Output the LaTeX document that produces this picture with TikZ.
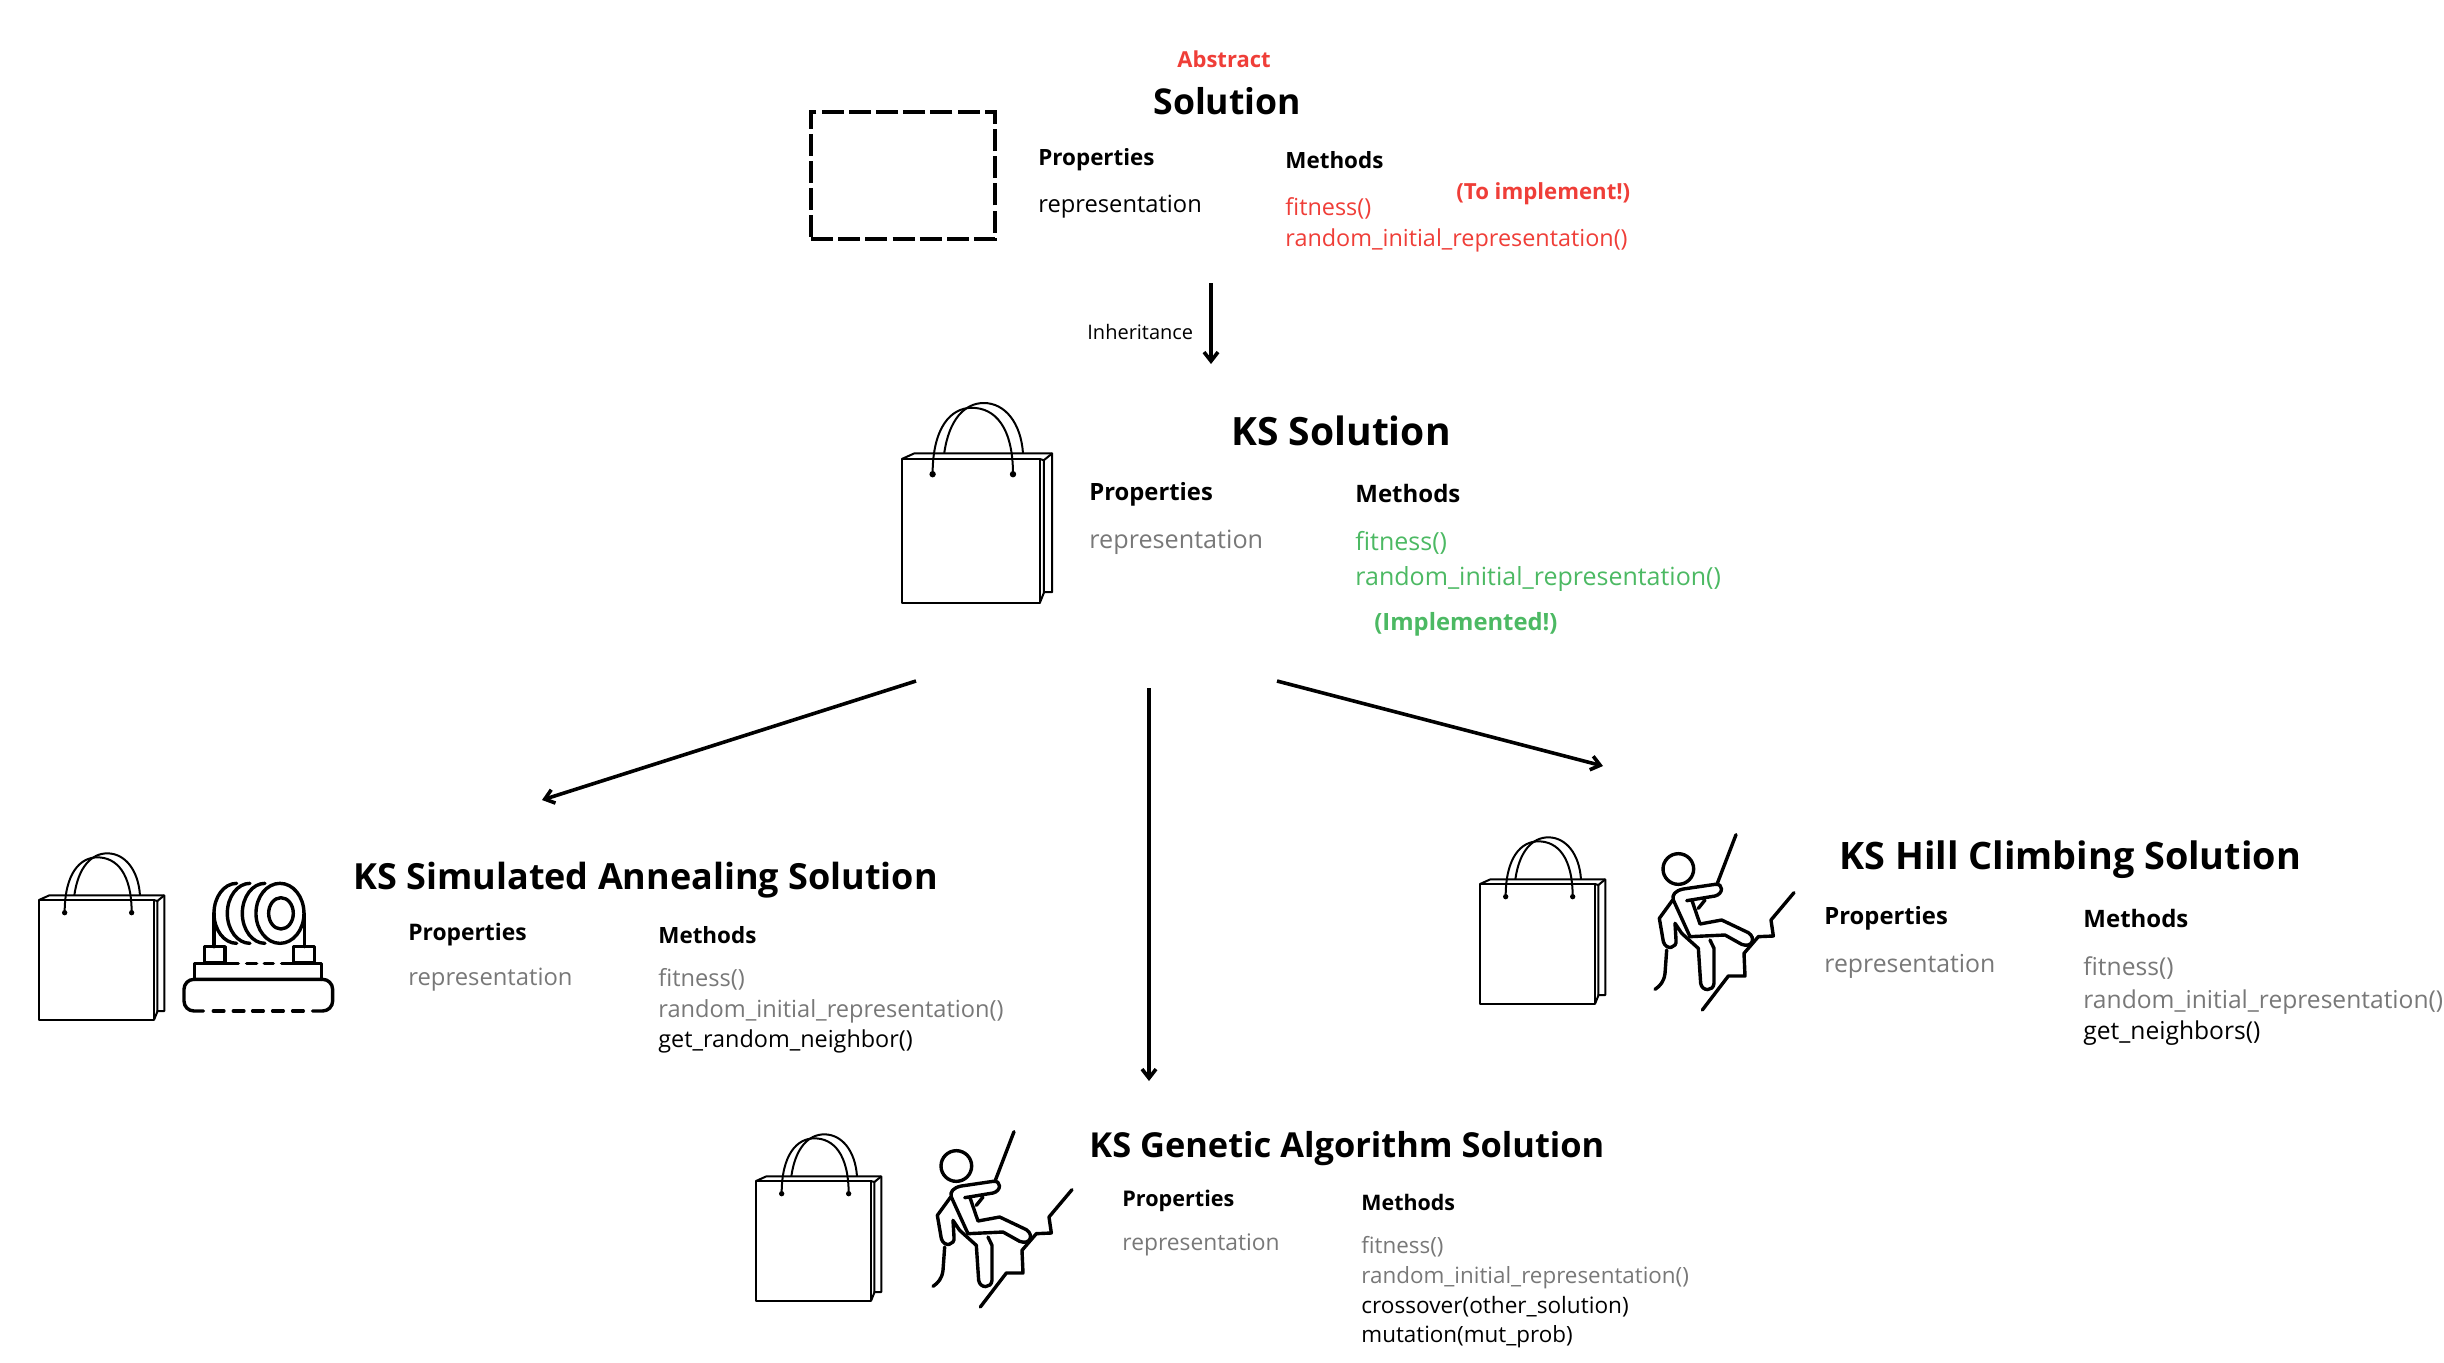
\documentclass[tikz,border=0pt]{standalone}
\usepackage{fontspec}
\setmainfont{Open Sans}
\usetikzlibrary{arrows.meta,positioning}
\definecolor{absred}{RGB}{239,62,56}
\definecolor{impgreen}{RGB}{76,185,99}
\definecolor{inhgray}{RGB}{120,120,120}
\tikzset{
  txt/.style={inner sep=0pt,anchor=base west,font=\fontsize{#1}{#1}\selectfont},
  hd/.style={inner sep=0pt,anchor=base west,font=\fontsize{#1}{#1}\selectfont\bfseries},
  under/.style 2 args={below=#1 of #2.base west,anchor=base west},
  ico/.style={line width=1.7pt,line cap=round,line join=round},
  bagl/.style={line width=1pt,line join=round},
  bag/.pic={
    \draw[bagl] (57,210) rectangle (402,570);
    \draw[bagl] (57,210) -- (88,196) -- (433,196) -- (433,543) -- (410,543);
    \draw[bagl] (402,210) -- (412,213) -- (433,196);
    \draw[bagl] (412,213) -- (412,545) -- (402,570);
    \draw[bagl] (134,248) .. controls (134,130) and (180,82) .. (232,82)
                .. controls (290,82) and (335,130) .. (335,248);
    \draw[bagl] (163,196) .. controls (175,110) and (215,70) .. (262,70)
                .. controls (315,70) and (355,120) .. (360,196);
    \fill (134,248) circle (8);
    \fill (335,248) circle (8);
  },
  heater/.pic={
    \draw[ico] (780,250) ellipse [x radius=72,y radius=90];
    \draw[ico] (783,250) ellipse [x radius=37,y radius=47];
    \foreach \cx in {735,690,650}
      \draw[ico] (\cx,340) arc [start angle=90,end angle=270,x radius=68,y radius=90];
    \draw[ico] (582,250) -- (582,350);
    \draw[ico] (853,250) -- (853,350);
    \draw[ico] (553,350) rectangle (615,398);
    \draw[ico] (820,350) rectangle (883,398);
    \draw[ico] (523,448) -- (523,400) -- (655,400);
    \draw[ico] (680,400) -- (710,400);
    \draw[ico] (733,400) -- (760,400);
    \draw[ico] (785,400) -- (905,400) -- (905,448);
    \draw[ico,rounded corners=5pt] (550,543) -- (492,543) -- (492,448) -- (938,448) -- (938,543) -- (878,543);
    \foreach \dx in {580,640,698,758,818}
      \draw[ico] (\dx,543) -- ++(32,0);
  },
  climber/.pic={
    \draw[ico] (115,147) circle (46);
    \draw[ico] (232,190) -- (288,44);
    \draw[ico] (140,242) -- (225,228) .. controls (250,222) and (252,190) .. (225,193)
               -- (130,207) .. controls (105,212) and (95,225) .. (100,240)
               -- (150,350) -- (255,345) -- (305,373) .. controls (335,385) and (350,355) .. (325,338)
               -- (245,300) -- (180,312) -- (157,245);
    \draw[ico] (195,240) -- (175,265);
    \draw[ico] (98,240) -- (58,295) -- (70,365) .. controls (78,392) and (112,385) .. (108,360)
               -- (105,310) -- (125,340);
    \draw[ico] (80,390) -- (75,460) .. controls (72,485) and (60,498) .. (45,508);
    \draw[ico] (125,340) -- (175,385) -- (182,490) .. controls (186,515) and (220,515) .. (222,490)
               -- (222,385) -- (210,360);
    \draw[ico] (187,570) -- (265,468) -- (315,468) -- (312,400) -- (355,350) -- (400,348) -- (393,300) -- (462,218);
  }
}
\begin{document}
\begin{tikzpicture}[x=0.5pt,y=-0.5pt,>={Straight Barb[length=4.5pt,width=7pt]}]
\useasboundingbox (0,0) rectangle (2444,1362);

% abstract solution
\node[hd=11,text=absred] (atag) at (1177,67) {Abstract};
\node[hd=17.8] (atitle) at (1153,114) {Solution};
\node[draw,dashed,line width=2.2pt,dash pattern=on 11pt off 2.6pt,minimum width=92pt,minimum height=63.5pt,inner sep=0pt] (abox) at (903,175.5) {};
\node[hd=11.2] (aprop) at (1038,165) {Properties};
\node[txt=11.85] (arep) [under={23.5pt}{aprop}] {representation};
\node[hd=11.2] (ameth) at (1285,168) {Methods};
\node[txt=11.7,text=absred] (afit) [under={23.5pt}{ameth}] {fitness()};
\node[txt=11.7,text=absred] (arand) [under={15.5pt}{afit}] {random\_initial\_representation()};
\node[hd=11.1,text=absred] (atodo) at (1456,199) {(To implement!)};

\coordinate (a0) at (1211,283);
\coordinate (a1) at (1211,364);
\draw[->,line width=1.8pt] (a0) -- (a1);
\node[txt=10] (inh) at (1087,339) {Inheritance};

% ks solution
\pic[scale=0.4] at (879,375) {bag};
\node[hd=19.5] (ktitle) at (1231,445) {KS Solution};
\node[hd=11.9] (kprop) at (1089,500) {Properties};
\node[txt=12.6,text=inhgray] (krep) [under={24pt}{kprop}] {representation};
\node[hd=12] (kmeth) at (1355,502) {Methods};
\node[txt=12.5,text=impgreen] (kfit) [under={24pt}{kmeth}] {fitness()};
\node[txt=12.5,text=impgreen] (krand) [under={17.5pt}{kfit}] {random\_initial\_representation()};
\node[hd=11.9,text=impgreen] (kdone) at (1374,630) {(Implemented!)};

\coordinate (k0) at (916,681);
\coordinate (k1) at (542,800);
\coordinate (k2) at (1149,688);
\coordinate (k3) at (1149,1081);
\coordinate (k4) at (1277,681);
\coordinate (k5) at (1603,766);
\draw[->,line width=1.8pt] (k0) -- (k1);
\draw[->,line width=1.8pt] (k2) -- (k3);
\draw[->,line width=1.8pt] (k4) -- (k5);

% simulated annealing
\pic[scale=0.3333] at (20,830) {bag};
\pic[scale=0.3333] at (20,830) {heater};
\node[hd=18] (stitle) at (353,889) {KS Simulated Annealing Solution};
\node[hd=11.4] (sprop) at (408,940) {Properties};
\node[txt=11.9,text=inhgray] (srep) [under={22.5pt}{sprop}] {representation};
\node[hd=11.2] (smeth) at (658,943) {Methods};
\node[txt=11.8,text=inhgray] (sfit) [under={21.5pt}{smeth}] {fitness()};
\node[txt=11.8,text=inhgray] (srand) [under={15.5pt}{sfit}] {random\_initial\_representation()};
\node[txt=11.7] (sget) [under={15pt}{srand}] {get\_random\_neighbor()};

% hill climbing
\pic[scale=0.3333] at (1461,814) {bag};
\pic[scale=0.3333] at (1640,820) {climber};
\node[hd=18.9] (htitle) at (1839,869) {KS Hill Climbing Solution};
\node[hd=11.9] (hprop) at (1824,924) {Properties};
\node[txt=12.4,text=inhgray] (hrep) [under={24pt}{hprop}] {representation};
\node[hd=12] (hmeth) at (2083,927) {Methods};
\node[txt=12.3,text=inhgray] (hfit) [under={24pt}{hmeth}] {fitness()};
\node[txt=12.3,text=inhgray] (hrand) [under={16.5pt}{hfit}] {random\_initial\_representation()};
\node[txt=12.3] (hget) [under={15.5pt}{hrand}] {get\_neighbors()};

% genetic algorithm
\pic[scale=0.3333] at (737,1111) {bag};
\pic[scale=0.3333] at (918,1117) {climber};
\node[hd=17.2] (gtitle) at (1089,1157) {KS Genetic Algorithm Solution};
\node[hd=10.8] (gprop) at (1122,1206) {Properties};
\node[txt=11.4,text=inhgray] (grep) [under={22pt}{gprop}] {representation};
\node[hd=10.7] (gmeth) at (1361,1210) {Methods};
\node[txt=11.2,text=inhgray] (gfit) [under={21.5pt}{gmeth}] {fitness()};
\node[txt=11.2,text=inhgray] (grand) [under={15pt}{gfit}] {random\_initial\_representation()};
\node[txt=11.3] (gcross) [under={15pt}{grand}] {crossover(other\_solution)};
\node[txt=11.2] (gmut) [under={14.5pt}{gcross}] {mutation(mut\_prob)};
\end{tikzpicture}
\end{document}
